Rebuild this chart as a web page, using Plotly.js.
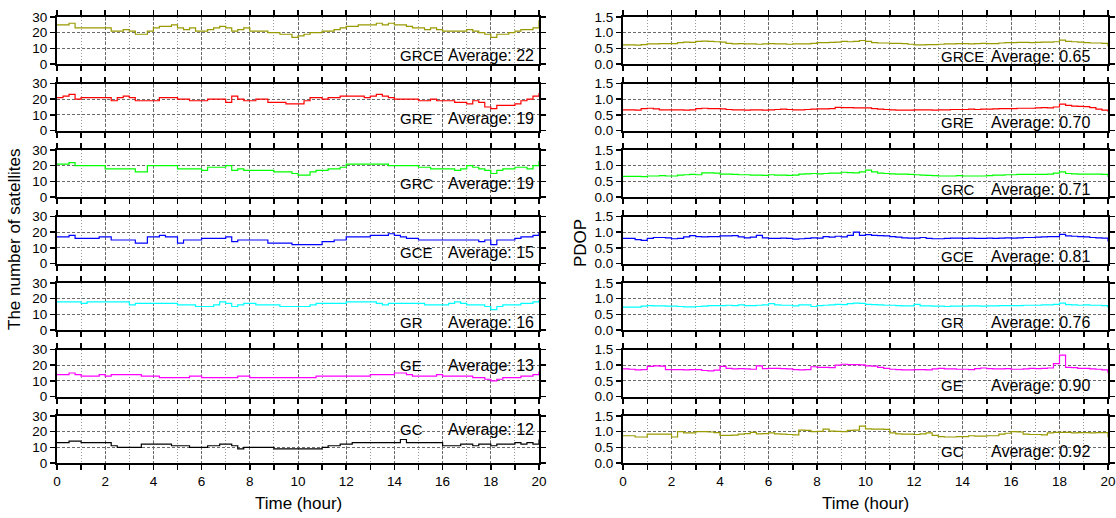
<!DOCTYPE html>
<html><head><meta charset="utf-8">
<script src="https://cdn.plot.ly/plotly-3.0.1.min.js"></script>
<style>html,body{margin:0;padding:0;background:#fff}#chart{width:1116px;height:518px}</style>
</head><body><div id="chart"></div>
<script>
// time axis (hour)
const hours = [0,0.25,0.5,0.75,1,1.25,1.5,1.75,2,2.25,2.5,2.75,3,3.25,3.5,3.75,4,4.25,4.5,4.75,5,5.25,5.5,5.75,6,6.25,6.5,6.75,7,7.25,7.5,7.75,8,8.25,8.5,8.75,9,9.25,9.5,9.75,10,10.25,10.5,10.75,11,11.25,11.5,11.75,12,12.25,12.5,12.75,13,13.25,13.5,13.75,14,14.25,14.5,14.75,15,15.25,15.5,15.75,16,16.25,16.5,16.75,17,17.25,17.5,17.75,18,18.25,18.5,18.75,19,19.25,19.5,19.75,20];

const systems = ['GRCE','GRE','GRC','GCE','GR','GE','GC'];
const satAverage = ['22','19','19','15','16','13','12'];
const pdopAverage = ['0.65','0.70','0.71','0.81','0.76','0.90','0.92'];
const xTickVals = [0,2,4,6,8,10,12,14,16,18,20];

// number of satellites
const satGRCE = [25,25,26,23,23,23,23,23,23, 21,21,22,21,19,19,21,23, 24,24,25,23,22,23,21,21, 22,23,24,23,21,22,23,21, 21,21,20,20,19,19,17,18, 19,20,20,21,21,22,23,24, 24,25,25,25,26,25,26,25, 25,24,23,23,22,23,22,21, 21,21,21,22,21,20,19,17, 19,19,20,21,22,22,23,28];
const satGRE  = [21,22,23,20,21,21,21,21,21, 19,21,22,21,19,19,19,19, 21,21,21,20,20,19,19,19, 20,20,20,18,22,20,19,19, 20,20,18,18,18,17,17,17, 19,21,21,20,21,21,22,22, 22,22,21,22,23,22,21,20, 20,20,20,19,19,20,19,19, 19,18,18,17,19,18,15,14, 16,16,16,17,19,20,22,24];
const satGRC  = [21,21,22,20,20,20,20,20,18, 18,18,18,18,16,16,20,20, 20,20,20,18,18,18,18,17, 19,19,19,20,17,18,17,17, 17,17,17,16,16,16,15,14, 14,16,17,17,18,18,19,21, 21,21,21,21,21,21,20,20, 20,20,20,19,19,18,18,18, 18,17,18,20,19,18,17,15, 17,18,18,19,19,18,20,23];
const satGCE  = [17,17,18,16,16,16,16,17,17, 15,15,15,15,13,13,17,17, 18,17,17,13,15,15,15,16, 16,16,16,17,14,15,15,15, 15,15,13,13,13,13,12,12, 12,12,12,14,14,15,15,17, 17,17,17,18,18,18,19,18, 17,16,16,15,15,15,15,15, 15,15,15,15,15,14,15,12, 15,15,15,16,17,17,18,20];
const satGR   = [18,18,18,18,17,18,18,18,18, 18,18,18,16,17,17,17,17, 17,17,17,16,16,16,15,15, 15,16,18,17,15,16,17,17, 16,16,16,16,15,15,15,15, 15,16,17,17,17,17,17,18, 18,18,18,18,17,16,17,17, 17,17,17,17,16,16,16,16, 17,18,17,16,16,16,15,13, 15,16,16,16,17,17,18,19];
const satGE   = [14,14,15,14,13,13,13,14,13, 14,14,14,14,14,13,13,13, 12,12,12,12,12,13,13,12, 12,12,12,12,12,13,13,12, 12,12,12,12,12,12,12,12, 12,12,13,13,13,13,13,13, 13,13,13,14,14,14,14,15, 15,14,13,13,13,13,14,13, 13,13,13,13,12,12,11,10, 11,12,12,12,13,13,14,16];
const satGC   = [13,13,14,14,13,13,13,13,13, 11,10,10,10,10,12,12,12, 12,12,11,11,11,10,10,10, 11,11,12,12,11,9,10,10, 10,10,10,9,9,9,9,9, 9,9,9,10,11,11,12,12, 13,13,13,13,13,13,13,13, 15,13,13,13,13,13,13,11, 11,11,12,12,11,12,12,11, 12,12,12,13,12,13,12,15];

// PDOP
const pdopGRCE = [0.61,0.61,0.60,0.62,0.64,0.64,0.65,0.65,0.65, 0.68,0.70,0.69,0.72,0.73,0.72,0.71,0.70, 0.66,0.64,0.65,0.64,0.64,0.63,0.64,0.65, 0.64,0.64,0.63,0.64,0.64,0.64,0.66,0.68, 0.68,0.69,0.70,0.72,0.71,0.72,0.75,0.72, 0.68,0.67,0.67,0.66,0.66,0.65,0.63,0.61, 0.61,0.62,0.62,0.63,0.64,0.64,0.65,0.65, 0.64,0.65,0.66,0.65,0.65,0.67,0.68,0.68, 0.69,0.69,0.68,0.69,0.70,0.70,0.71,0.76, 0.72,0.71,0.70,0.68,0.67,0.67,0.66,0.57];
const pdopGRE  = [0.66,0.66,0.65,0.70,0.71,0.69,0.66,0.66,0.66, 0.66,0.65,0.66,0.70,0.71,0.70,0.70,0.69, 0.67,0.66,0.66,0.65,0.66,0.66,0.65,0.66, 0.67,0.68,0.67,0.66,0.66,0.67,0.68,0.69, 0.69,0.70,0.74,0.73,0.73,0.72,0.72,0.72, 0.70,0.68,0.67,0.66,0.65,0.65,0.65,0.66, 0.66,0.66,0.65,0.66,0.66,0.67,0.67,0.67, 0.68,0.67,0.68,0.68,0.69,0.70,0.70,0.70, 0.71,0.71,0.71,0.72,0.73,0.72,0.75,0.84, 0.80,0.78,0.77,0.76,0.73,0.68,0.65,0.60];
const pdopGRC  = [0.66,0.66,0.66,0.65,0.67,0.67,0.68,0.67,0.67, 0.70,0.71,0.72,0.71,0.77,0.77,0.76,0.73, 0.73,0.72,0.71,0.71,0.70,0.70,0.69,0.71, 0.70,0.70,0.69,0.70,0.73,0.74,0.75,0.74, 0.75,0.76,0.76,0.79,0.78,0.77,0.80,0.86, 0.80,0.76,0.75,0.74,0.73,0.73,0.72,0.71, 0.70,0.69,0.68,0.67,0.67,0.67,0.68,0.67, 0.67,0.67,0.67,0.68,0.70,0.70,0.71,0.71, 0.72,0.72,0.72,0.72,0.72,0.73,0.76,0.80, 0.75,0.74,0.73,0.73,0.73,0.73,0.72,0.64];
const pdopGCE  = [0.80,0.80,0.76,0.74,0.80,0.83,0.83,0.82,0.79, 0.80,0.85,0.89,0.86,0.85,0.86,0.86,0.88, 0.88,0.89,0.85,0.82,0.84,0.90,0.82,0.80, 0.80,0.81,0.80,0.78,0.79,0.80,0.82,0.81, 0.86,0.84,0.87,0.85,0.90,1.00,0.90,0.92, 0.90,0.89,0.88,0.86,0.84,0.82,0.81,0.81, 0.83,0.80,0.79,0.79,0.80,0.81,0.81,0.80, 0.81,0.80,0.80,0.81,0.80,0.81,0.82,0.81, 0.82,0.83,0.83,0.84,0.85,0.86,0.86,0.93, 0.88,0.87,0.86,0.85,0.83,0.82,0.81,0.70];
const pdopGR   = [0.73,0.73,0.73,0.76,0.78,0.77,0.77,0.76,0.76, 0.75,0.74,0.74,0.75,0.76,0.78,0.78,0.78, 0.79,0.78,0.80,0.78,0.78,0.79,0.80,0.84, 0.80,0.79,0.79,0.77,0.80,0.80,0.75,0.78, 0.79,0.80,0.82,0.81,0.84,0.86,0.85,0.82, 0.81,0.80,0.79,0.79,0.78,0.77,0.77,0.82, 0.77,0.77,0.76,0.76,0.75,0.76,0.76,0.76, 0.77,0.77,0.76,0.77,0.77,0.78,0.78,0.78, 0.78,0.79,0.79,0.79,0.80,0.80,0.82,0.86, 0.81,0.80,0.79,0.80,0.79,0.79,0.78,0.71];
const pdopGE   = [0.88,0.87,0.85,0.86,0.96,0.98,0.97,0.86,0.86, 0.86,0.85,0.86,0.86,0.83,0.82,0.84,0.96, 0.90,0.88,0.89,0.88,0.87,0.98,0.89,0.90, 0.90,0.89,0.88,0.86,0.85,0.86,0.95,0.93, 0.93,0.92,1.00,1.03,1.02,1.02,1.01,0.98, 0.97,0.93,0.90,0.87,0.86,0.85,0.85,0.86, 0.86,0.85,0.88,0.90,0.88,0.88,0.87,0.87, 0.86,0.89,0.91,0.89,0.88,0.88,0.89,0.87, 0.87,0.88,0.90,0.89,0.90,0.91,1.05,1.32, 0.93,0.92,0.90,0.90,0.88,0.87,0.85,0.75];
const pdopGC   = [0.87,0.87,0.83,0.83,0.92,0.92,0.92,0.92,0.83, 1.00,0.96,0.96,1.00,1.00,0.99,0.97,0.88, 0.88,0.89,0.92,0.94,0.98,0.93,0.94,0.96, 0.93,0.92,0.91,0.90,1.05,1.04,1.00,1.01, 1.08,1.02,1.01,1.00,1.04,1.05,1.18,1.09, 1.08,1.08,1.07,0.96,0.93,0.92,0.92,0.91, 0.93,0.96,0.88,0.84,0.83,0.83,0.84,0.84, 0.87,0.86,0.86,0.87,0.87,0.92,0.95,1.00, 0.99,0.92,0.91,0.91,0.90,0.96,0.98,0.98, 0.98,0.96,0.97,0.97,0.96,0.97,0.97,0.82];

const satSeries = [satGRCE, satGRE, satGRC, satGCE, satGR, satGE, satGC];
const pdopSeries = [pdopGRCE, pdopGRE, pdopGRC, pdopGCE, pdopGR, pdopGE, pdopGC];

const satColors = ['#999900','#ff0000','#00ff00','#0000ff','#00ffff','#ff00ff','#000000'];
const pdopColors = ['#999900','#ff0000','#00ff00','#0000ff','#00ffff','#ff00ff','#999900'];

const W = 1116, H = 518;
const FONT = 'Liberation Sans, Arial, Helvetica, sans-serif';
const xDomains = [[57/W, 539/W], [623/W, 1108/W]];
const topPx = 17, periodPx = 66.5, heightPx = 47;
function yDom(k){ const t = topPx + k*periodPx; return [1-(t+heightPx)/H, 1-t/H]; }

const satLabelY = [0.181,0.255,0.277,0.234,0.170,0.670,0.723];
const pdopLabelY = [0.160,0.160,0.164,0.149,0.160,0.234,0.255];

const traces = [];
const layout = {
  width: W, height: H,
  margin: {l:0, r:0, t:0, b:0},
  paper_bgcolor: '#fff', plot_bgcolor: 'rgba(0,0,0,0)',
  showlegend: false,
  font: {family: FONT, color: '#000', size: 13.5},
  annotations: []
};

for (let p = 0; p < 2; p++) {
  for (let k = 0; k < 7; k++) {
    const idx = p*7 + k + 1;
    const ov = idx + 14;
    const ys = p === 0 ? satSeries[k] : pdopSeries[k];
    traces.push({
      x: hours, y: ys, type: 'scatter', mode: 'lines',
      line: {color: (p===0?satColors:pdopColors)[k], width: 1.2, shape: 'hv'},
      xaxis: 'x'+idx, yaxis: 'y'+idx, hoverinfo: 'skip'
    });
    const yr = p === 0 ? [0,30] : [0,1.5];
    const dy = p === 0 ? 10 : 0.5;
    layout['xaxis'+idx] = {
      domain: xDomains[p], anchor: 'y'+idx, range: [0,20],
      tickmode: 'array', tickvals: xTickVals, ticktext: xTickVals.map(String),
      ticks: 'outside', ticklen: 5, tickwidth: 1.5, tickcolor: '#000',
      showline: true, linewidth: 2, linecolor: '#000', mirror: 'ticks',
      showgrid: true, gridcolor: '#6a6a6a', griddash: '3px,2px', gridwidth: 1,
      zeroline: false, showticklabels: k === 6,
      tickfont: {size: 13.5, color: '#000', family: FONT},
      minor: {dtick: 1, tick0: 0, ticks: 'outside', ticklen: 5, tickwidth: 1.5, tickcolor: '#000',
              showgrid: true, gridcolor: '#9a9a9a', griddash: '1px,2px', gridwidth: 1},
      fixedrange: true
    };
    layout['yaxis'+idx] = {
      domain: yDom(k), anchor: 'x'+idx, range: yr, dtick: dy, tick0: 0,
      tickformat: p === 0 ? 'd' : '.1f',
      ticks: 'outside', ticklen: 5, tickwidth: 1.5, tickcolor: '#000',
      showline: true, linewidth: 2, linecolor: '#000', mirror: 'ticks',
      showgrid: true, gridcolor: '#6a6a6a', griddash: '3px,2px', gridwidth: 1,
      zeroline: false, tickfont: {size: 13.5, color: '#000', family: FONT},
      fixedrange: true
    };
    // overlay axes: inward half of the crossing ticks
    layout['xaxis'+ov] = {
      overlaying: 'x'+idx, anchor: 'y'+idx, range: [0,20],
      tickmode: 'linear', dtick: 1, tick0: 0,
      ticks: 'inside', ticklen: 5, tickwidth: 1.5, tickcolor: '#000',
      showline: false, mirror: 'ticks', showgrid: false, zeroline: false,
      showticklabels: false, fixedrange: true
    };
    layout['yaxis'+ov] = {
      overlaying: 'y'+idx, anchor: 'x'+idx, range: yr, dtick: dy, tick0: 0,
      ticks: 'inside', ticklen: 5, tickwidth: 1.5, tickcolor: '#000',
      showline: false, mirror: 'ticks', showgrid: false, zeroline: false,
      showticklabels: false, fixedrange: true
    };
    const nameX = p === 0 ? 0.707 : 0.652;
    const avgX = p === 0 ? 0.807 : 0.755;
    const ly = p === 0 ? satLabelY[k] : pdopLabelY[k];
    layout.annotations.push({
      xref: 'x'+idx+' domain', yref: 'y'+idx+' domain', x: nameX, y: ly,
      xanchor: 'left', yanchor: 'middle', showarrow: false,
      text: systems[k], font: {size: 15, color: '#000', family: FONT}
    });
    layout.annotations.push({
      xref: 'x'+idx+' domain', yref: 'y'+idx+' domain', x: avgX, y: ly,
      xanchor: 'left', yanchor: 'middle', showarrow: false,
      text: 'Average: ' + (p === 0 ? satAverage[k] : pdopAverage[k]),
      font: {size: 16, color: '#000', family: FONT}
    });
  }
}

// axis titles
layout.annotations.push({xref:'paper', yref:'paper', x:(57+539)/2/W, y:1-503/H, xanchor:'center', yanchor:'middle',
  showarrow:false, text:'Time (hour)', font:{size:17, color:'#000', family:FONT}});
layout.annotations.push({xref:'paper', yref:'paper', x:(623+1108)/2/W, y:1-503/H, xanchor:'center', yanchor:'middle',
  showarrow:false, text:'Time (hour)', font:{size:17, color:'#000', family:FONT}});
layout.annotations.push({xref:'paper', yref:'paper', x:15/W, y:1-240/H, xanchor:'center', yanchor:'middle',
  showarrow:false, textangle:-90, text:'The number of satellites', font:{size:17, color:'#000', family:FONT}});
layout.annotations.push({xref:'paper', yref:'paper', x:580/W, y:1-243/H, xanchor:'center', yanchor:'middle',
  showarrow:false, textangle:-90, text:'PDOP', font:{size:17, color:'#000', family:FONT}});

Plotly.newPlot('chart', traces, layout, {displayModeBar: false, staticPlot: true});
</script>
</body></html>
